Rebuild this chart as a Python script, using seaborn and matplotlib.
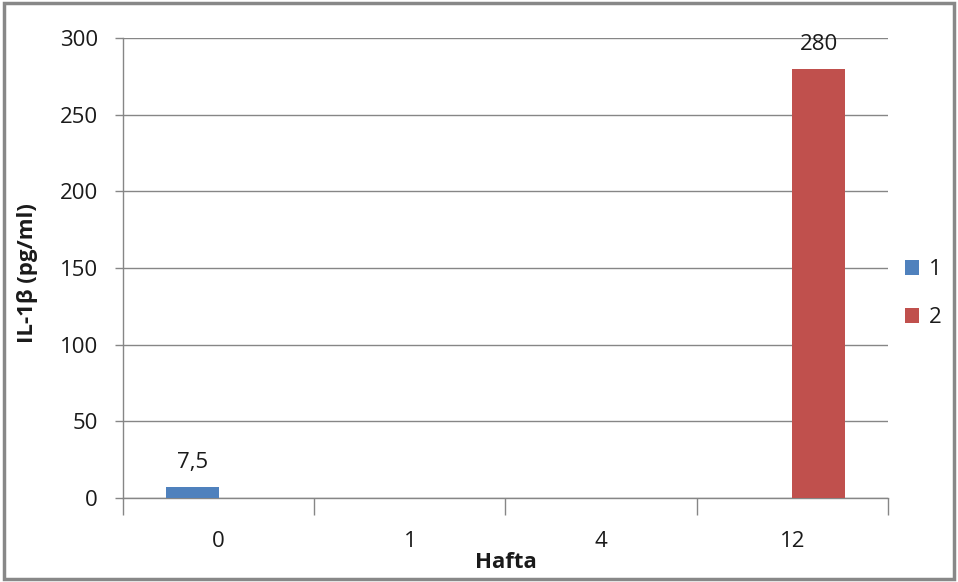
import matplotlib
matplotlib.use("Agg")
import matplotlib.pyplot as plt
from matplotlib.patches import Rectangle
import seaborn as sns
import pandas as pd
import numpy as np

# Weekly IL-1β measurements for two groups (blank = not measured)
weeks = ["0", "1", "4", "12"]
group_1 = [7.5, np.nan, np.nan, np.nan]
group_2 = [np.nan, np.nan, np.nan, 280]
groups = ["1", "2"]
colors = ["#4F81BD", "#C0504D"]
y_ticks = [0, 50, 100, 150, 200, 250, 300]

df = pd.DataFrame({
    "Hafta": weeks * 2,
    "value": group_1 + group_2,
    "grup": [groups[0]] * len(weeks) + [groups[1]] * len(weeks),
})

sns.set_style("white")
plt.rcParams["font.family"] = ["Open Sans", "DejaVu Sans"]
FS = 16
TXT = "#1a1a1a"

fig = plt.figure(figsize=(9.58, 5.82), dpi=100)
ax = fig.add_axes([0.1284, 0.1443, 0.7985, 0.7904])

sns.barplot(data=df, x="Hafta", y="value", hue="grup", order=weeks,
            hue_order=groups, palette=colors, width=0.555, saturation=1,
            ax=ax, zorder=3, linewidth=0)

grid_c = "#868686"
ax.set_ylim(0, 300)
ax.set_xlim(-0.5, len(weeks) - 0.5)
ax.set_yticks(y_ticks)
ax.set_yticklabels([str(v) for v in y_ticks], fontsize=FS, color=TXT)
ax.yaxis.grid(True, color=grid_c, linewidth=1)
ax.set_axisbelow(True)
ax.tick_params(axis="y", length=6, width=1, color=grid_c, pad=12, direction="out", left=True)

# category labels centered, tick marks at the category boundaries
ax.set_xticks(range(len(weeks)))
ax.set_xticklabels(weeks, fontsize=FS, color=TXT)
ax.tick_params(axis="x", which="major", length=0, pad=24)
ax.set_xticks([i - 0.5 for i in range(len(weeks) + 1)], minor=True)
ax.tick_params(axis="x", which="minor", length=12, width=1, color=grid_c, direction="out", bottom=True)

for s in ["top", "right"]:
    ax.spines[s].set_visible(False)
for s in ["left", "bottom"]:
    ax.spines[s].set_color(grid_c)
    ax.spines[s].set_linewidth(1)

ax.set_xlabel("Hafta", fontsize=FS, fontweight="bold", labelpad=0, color=TXT)
ax.set_ylabel("IL-1β (pg/ml)", fontsize=FS, fontweight="bold", color=TXT)
ax.yaxis.set_label_coords(-0.111, 0.49)

# value labels on measured bars
for cont in ax.containers:
    labels = [("" if not np.isfinite(v) or v == 0 else f"{v:g}".replace(".", ","))
              for v in cont.datavalues]
    ax.bar_label(cont, labels=labels, padding=10, fontsize=FS, color=TXT)

handles, labs = ax.get_legend_handles_labels()
ax.legend(handles, labs, loc="center left", bbox_to_anchor=(0.9235, 0.4954),
          bbox_transform=fig.transFigure, frameon=False, fontsize=FS,
          handlelength=0.65, handleheight=0.65, handletextpad=0.45,
          labelspacing=1.2, labelcolor=TXT)

# outer chart border
fig.patches.append(Rectangle((0.004, 0.006), 0.992, 0.988, transform=fig.transFigure,
                             fill=False, edgecolor="#888888", linewidth=2.5))

fig.savefig("out.png", dpi=100)
